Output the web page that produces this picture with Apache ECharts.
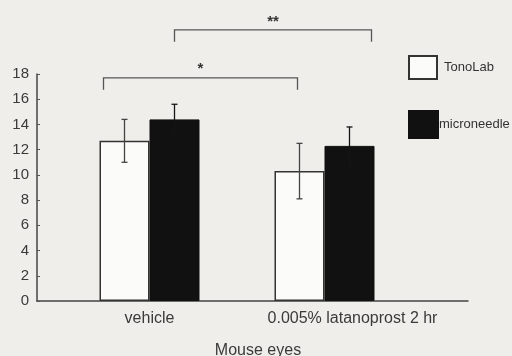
<!DOCTYPE html>
<html><head><meta charset="utf-8">
<script src="https://cdn.jsdelivr.net/npm/echarts@6/dist/echarts.min.js"></script>
<style>html,body{margin:0;padding:0;background:#efeeea;}#c{width:512px;height:356px;}</style>
</head><body><div id="c"></div>
<script>
const categories = ['vehicle', '0.005% latanoprost 2 hr'];
const seriesNames = ['TonoLab', 'microneedle'];
const tonolab = [12.7, 10.3];
const tonolabErr = [1.7, 2.2];
const microneedle = [14.4, 12.3];
const microneedleErr = [1.2, 1.5];
const yTicks = [0, 2, 4, 6, 8, 10, 12, 14, 16, 18];
const xTitle = 'Mouse eyes';
// significance brackets: [from category, from bar(0/1), to category, to bar, level, label]
const brackets = [
  [0, 0, 1, 0, 17.7, '*'],
  [0, 1, 1, 1, 21.5, '**']
];

const font = "'Liberation Sans', Arial, sans-serif";
const ink = '#3a3a3a';
const BW = 50;

const errData = [];
tonolab.forEach((v, i) => errData.push([i, v, tonolabErr[i], 0]));
microneedle.forEach((v, i) => errData.push([i, v, microneedleErr[i], 1]));

const chart = echarts.init(document.getElementById('c'), null, {renderer: 'canvas'});
chart.setOption({
  backgroundColor: '#efeeea',
  animation: false,
  grid: [
    {left: 37, right: 44, top: 74, bottom: 55, outerBoundsMode: 'none', containLabel: false},
    {left: 62, width: 350, top: 74, bottom: 55, outerBoundsMode: 'none', containLabel: false}
  ],
  legend: [
    {data: [seriesNames[0]], left: 403, top: 50, orient: 'vertical', itemWidth: 28, itemHeight: 23,
     icon: 'rect', textStyle: {fontFamily: font, fontSize: 13, color: '#333', padding: [0, 0, 0, 2]}},
    {data: [seriesNames[1]], left: 403, top: 105, orient: 'vertical', itemWidth: 29, itemHeight: 27,
     icon: 'rect', textStyle: {fontFamily: font, fontSize: 13, color: '#333', padding: [0, 0, 0, -4]}}
  ],
  xAxis: [
    {gridIndex: 0, type: 'value', min: 0, max: 1,
     axisLine: {show: true, lineStyle: {color: '#444', width: 1.5}},
     axisTick: {show: false}, axisLabel: {show: false}, splitLine: {show: false},
     name: xTitle, nameLocation: 'middle', nameGap: 42,
     nameTextStyle: {fontFamily: font, fontSize: 16, color: ink, padding: [0, 0, 0, 11]}},
    {gridIndex: 1, type: 'category',
     data: categories,
     axisLine: {show: false}, axisTick: {show: false},
     axisLabel: {fontFamily: font, fontSize: 16, color: ink, margin: 10, interval: 0, hideOverlap: false,
       formatter: (v, i) => i === 1 ? '{s|' + v + '}' : v,
       rich: {s: {fontFamily: font, fontSize: 16, color: ink, padding: [0, 0, 0, 56]}}}}
  ],
  yAxis: [
    {gridIndex: 0, type: 'value', min: 0, max: 18, interval: 2,
     axisLine: {show: true, lineStyle: {color: '#444', width: 1.5}},
     axisTick: {show: true, inside: true, length: 3, lineStyle: {color: '#555'}},
     axisLabel: {fontFamily: font, fontSize: 15, color: ink, margin: 8,
                 formatter: v => yTicks.includes(v) ? String(v) : ''},
     splitLine: {show: false}},
    {gridIndex: 1, type: 'value', min: 0, max: 18, interval: 2, show: false}
  ],
  series: [
    {name: seriesNames[0], type: 'bar', xAxisIndex: 1, yAxisIndex: 1, data: tonolab,
     barWidth: BW, barGap: '0%',
     itemStyle: {color: '#fbfbf9', borderColor: '#333', borderWidth: 1.5}},
    {name: seriesNames[1], type: 'bar', xAxisIndex: 1, yAxisIndex: 1, data: microneedle,
     barWidth: BW, barGap: '0%',
     itemStyle: {color: '#111', borderColor: '#111', borderWidth: 1}},
    {type: 'custom', xAxisIndex: 1, yAxisIndex: 1, data: errData, z: 5, silent: true,
     renderItem: (params, api) => {
       const c = api.value(0), m = api.value(1), e = api.value(2), s = api.value(3);
       const off = (s === 0 ? -BW / 2 : BW / 2);
       const top = api.coord([c, m + e]);
       const bot = api.coord([c, m - e]);
       const x = top[0] + off;
       const col = s === 0 ? '#444' : '#151515';
       const cap = 3;
       return {type: 'group', children: [
         {type: 'line', shape: {x1: x, y1: top[1], x2: x, y2: bot[1]}, style: {stroke: col, lineWidth: 1.3}},
         {type: 'line', shape: {x1: x - cap, y1: top[1], x2: x + cap, y2: top[1]}, style: {stroke: col, lineWidth: 1.3}},
         {type: 'line', shape: {x1: x - cap, y1: bot[1], x2: x + cap, y2: bot[1]}, style: {stroke: col, lineWidth: 1.3}}
       ]};
     }},
    {type: 'custom', xAxisIndex: 1, yAxisIndex: 1, data: brackets, clip: false, silent: true, z: 6,
     renderItem: (params, api) => {
       const b = brackets[params.dataIndex];
       const p1 = api.coord([b[0], b[4]]);
       const p2 = api.coord([b[2], b[4]]);
       const x1 = p1[0] + (b[1] === 0 ? -BW * 0.92 : BW / 2);
       const x2 = p2[0] + (b[3] === 0 ? -BW / 2 - 2 : BW * 0.94);
       const legLen = 12;
       const y = p1[1];
       return {type: 'group', children: [
         {type: 'polyline', shape: {points: [[x1, y + legLen], [x1, y], [x2, y], [x2, y + legLen]]},
          style: {stroke: '#555', lineWidth: 1.3, fill: null}},
         {type: 'text', style: {text: b[5], x: (x1 + x2) / 2, y: y - 1, align: 'center', verticalAlign: 'bottom',
          font: 'bold 15px ' + font, fill: '#333'}}
       ]};
     }}
  ]
});
</script></body></html>
